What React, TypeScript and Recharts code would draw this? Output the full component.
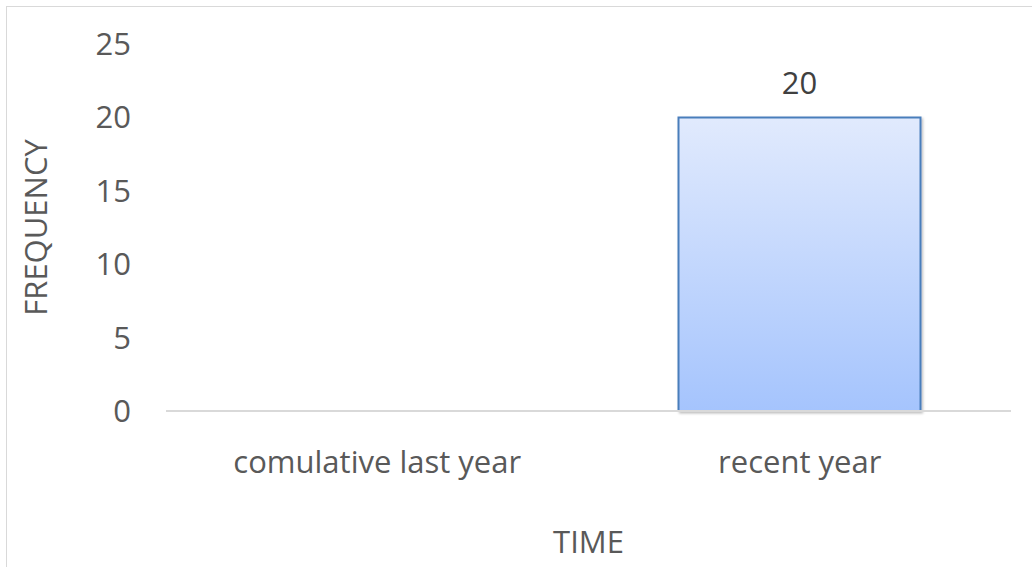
import { BarChart, Bar, XAxis, YAxis, LabelList, Label } from "recharts";

const categories = ["comulative last year", "recent year"];
const frequency = [0, 20];
const yTicks = [0, 5, 10, 15, 20, 25];

const data = categories.map((time, i) => ({ time, frequency: frequency[i] }));

const FONT = "'Open Sans', sans-serif";
const TEXT = "#595959";
const SIZE = 31;

export default function App() {
  return (
    <div style={{ position: "absolute", left: 0, top: 0, width: 1032, height: 567, overflow: "hidden", background: "#fff" }}>
      {/* chart frame, only top/left edges visible */}
      <div style={{ position: "absolute", left: 6, top: 6, width: 1060, height: 600, border: "1px solid #d9d9d9" }} />
      <BarChart
        width={1032}
        height={567}
        data={data}
        margin={{ top: 44, right: 21, left: 0, bottom: 0 }}
        barSize={242}
        style={{ position: "absolute", left: 0, top: 0, fontFamily: FONT }}
      >
        <defs>
          <linearGradient id="barFill" x1="0" y1="0" x2="0" y2="1">
            <stop offset="0%" stopColor="#e1eafd" />
            <stop offset="100%" stopColor="#a5c4fd" />
          </linearGradient>
          <filter id="barShadow" x="-5%" y="-5%" width="110%" height="110%">
            <feDropShadow dx="1.5" dy="1.5" stdDeviation="1.2" floodColor="#000" floodOpacity="0.25" />
          </filter>
        </defs>
        <XAxis
          dataKey="time"
          height={156}
          axisLine={{ stroke: "#d9d9d9", strokeWidth: 2 }}
          tickLine={false}
          tickSize={0}
          tickMargin={40}
          tick={{ fill: TEXT, fontSize: SIZE, fontFamily: FONT }}
        >
          <Label value="TIME" position="insideBottom" offset={14} style={{ fill: TEXT, fontSize: SIZE, fontFamily: FONT }} />
        </XAxis>
        <YAxis
          width={166}
          domain={[0, 25]}
          ticks={yTicks}
          axisLine={false}
          tickLine={false}
          tickSize={0}
          tickMargin={35}
          tick={{ fill: TEXT, fontSize: SIZE, fontFamily: FONT }}
        >
          <Label
            value="FREQUENCY"
            angle={-90}
            position="insideLeft"
            offset={36}
            style={{ fill: TEXT, fontSize: SIZE, fontFamily: FONT, textAnchor: "middle" }}
          />
        </YAxis>
        <Bar dataKey="frequency" fill="url(#barFill)" stroke="#4a7ebb" strokeWidth={2} filter="url(#barShadow)" isAnimationActive={false}>
          <LabelList dataKey="frequency" position="top" offset={23} style={{ fill: "#404040", fontSize: SIZE, fontFamily: FONT }} />
        </Bar>
      </BarChart>
    </div>
  );
}
